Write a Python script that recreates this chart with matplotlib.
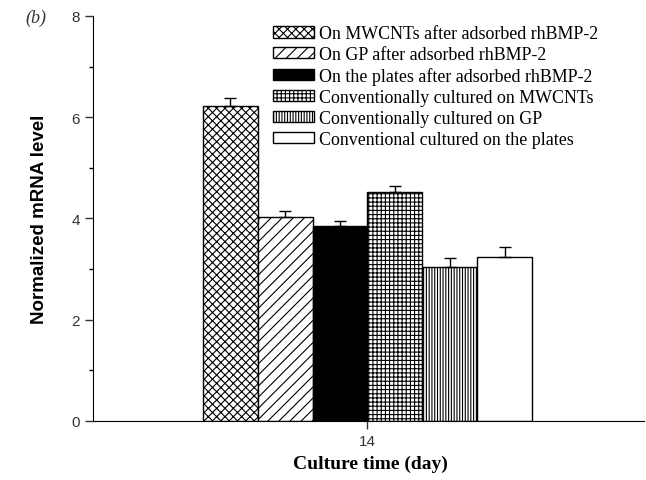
import matplotlib
matplotlib.use('Agg')
import matplotlib.pyplot as plt

# data (day 14)
labels = ['On MWCNTs after adsorbed rhBMP-2',
          'On GP after adsorbed rhBMP-2',
          'On the plates after adsorbed rhBMP-2',
          'Conventionally cultured on MWCNTs',
          'Conventionally cultured on GP',
          'Conventional cultured on the plates']
values = [6.22, 4.03, 3.85, 4.53, 3.04, 3.24]
errors = [0.16, 0.11, 0.11, 0.11, 0.18, 0.20]
day = 14

hatches = ['xxxx', '///', '', '++++', '||||||', '']
fills = ['white', 'white', 'black', 'white', 'white', 'white']

plt.rcParams['hatch.linewidth'] = 0.8

fig = plt.figure(figsize=(6.46, 4.81), dpi=100)
ax = fig.add_axes([0.144, 0.1227, 0.853, 0.842])

width = 0.199
n = len(values)
for i in range(n):
    xpos = day + (i - (n - 1) / 2) * width
    ax.bar(xpos, values[i], width, color=fills[i], edgecolor='black',
           hatch=hatches[i], linewidth=1.0, label=labels[i], zorder=2)
    ax.errorbar(xpos, values[i], yerr=[[0], [errors[i]]], color='black',
                capsize=4, elinewidth=1.0, capthick=1.0, zorder=3)

ax.set_xlim(day - 0.996, day + 1.004)
ax.set_ylim(0, 8)
ax.set_xticks([day])
ax.set_yticks([0, 2, 4, 6, 8])
ax.set_yticks([1, 3, 5, 7], minor=True)
ax.spines['top'].set_visible(False)
ax.spines['right'].set_visible(False)
ax.tick_params(axis='both', direction='out', length=6, width=1, labelsize=11,
               colors='#333333')
ax.tick_params(axis='y', which='minor', length=3, width=1)
for t in ax.get_xticklabels() + ax.get_yticklabels():
    t.set_family('Liberation Sans')

ax.set_xlabel('Culture time (day)', family='Liberation Serif',
              fontweight='bold', fontsize=14)
ax.xaxis.set_label_coords(0.503, -0.084)
ax.set_ylabel('Normalized mRNA level', family='Liberation Sans',
              fontweight='bold', fontsize=13.5)
ax.yaxis.set_label_coords(-0.082, 0.5)

fig.text(0.04, 0.953, '(b)', family='Liberation Serif', style='italic',
         fontsize=13, color='#333333')

ax.legend(loc='upper left', bbox_to_anchor=(0.313, 0.995), frameon=False,
          prop={'family': 'Liberation Serif', 'size': 12.9},
          handlelength=2.3, handleheight=0.6, labelspacing=0.22,
          handletextpad=0.3, borderaxespad=0)

plt.savefig('out.png', dpi=100)
